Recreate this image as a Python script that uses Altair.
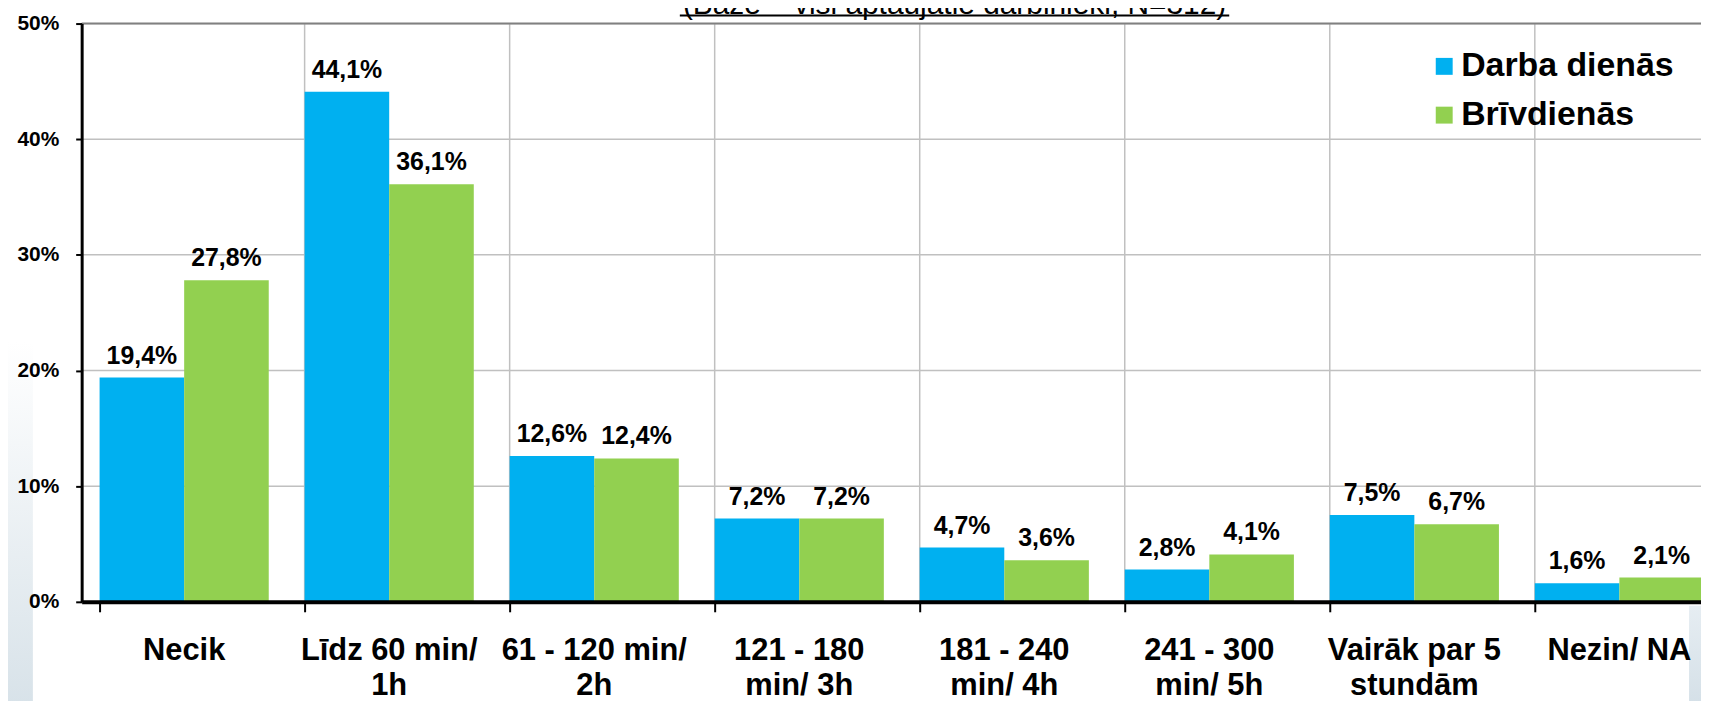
import altair as alt
import pandas as pd

categories = ["Necik", "Līdz 60 min/\n1h", "61 - 120 min/\n2h", "121 - 180\nmin/ 3h",
              "181 - 240\nmin/ 4h", "241 - 300\nmin/ 5h", "Vairāk par 5\nstundām", "Nezin/ NA"]
series = ["Darba dienās", "Brīvdienās"]
darba_dienas = [19.4, 44.1, 12.6, 7.2, 4.7, 2.8, 7.5, 1.6]
brivdienas = [27.8, 36.1, 12.4, 7.2, 3.6, 4.1, 6.7, 2.1]
y_ticks = [0, 10, 20, 30, 40, 50]
colors = ["#00B0F0", "#92D050"]
title_text = "(Bāze – visi aptaujātie darbinieki, N=312)"

FONT = "Liberation Sans"
W, H = 1627, 581

rows = []
for c, a, b in zip(categories, darba_dienas, brivdienas):
    rows.append({"cat": c, "series": series[0], "v": a})
    rows.append({"cat": c, "series": series[1], "v": b})
df = pd.DataFrame(rows)

xscale = alt.Scale(domain=categories, range=[0, 1648], paddingInner=0.175, paddingOuter=0.0875)
yscale = alt.Scale(domain=[0, 50], nice=False)
offscale = alt.Scale(domain=series, paddingInner=0, paddingOuter=0)

x_axis = alt.Axis(
    title=None, domain=True, domainColor="black", domainWidth=4,
    ticks=True, tickColor="black", tickWidth=2, tickSize=10,
    bandPosition=0, grid=False,
    labelFont=FONT, labelFontSize=31, labelFontWeight="bold", labelColor="black",
    labelLineHeight=35, labelPadding=24, labelBaseline="top", labelAngle=0,
    labelLimit=400, labelExpr="split(datum.value, '\\n')", zindex=2,
)
y_axis = alt.Axis(
    title=None, values=y_ticks, domain=True, domainColor="black", domainWidth=3,
    ticks=True, tickColor="black", tickWidth=2, tickSize=6, grid=False,
    labelFont=FONT, labelFontSize=21, labelFontWeight="bold", labelColor="black",
    labelPadding=17, labelExpr="datum.value + '%'", zindex=2,
)

X = lambda **kw: alt.X("cat:N", scale=xscale, axis=x_axis, sort=categories, **kw)
Y = lambda: alt.Y("v:Q", scale=yscale, axis=y_axis)

one = pd.DataFrame({"k": [0]})

bg_left = alt.Chart(one).mark_rect(
    fill=alt.Gradient(gradient="linear",
                      stops=[alt.GradientStop(color="#ffffff", offset=0),
                             alt.GradientStop(color="#d6e1e8", offset=1)],
                      x1=0, x2=0, y1=0, y2=1)
).encode(x=alt.value(-74), x2=alt.value(-49), y=alt.value(320), y2=alt.value(700))

bg_right = alt.Chart(one).mark_rect(
    fill=alt.Gradient(gradient="linear",
                      stops=[alt.GradientStop(color="#e6edf2", offset=0),
                             alt.GradientStop(color="#d2dee6", offset=1)],
                      x1=0, x2=0, y1=0, y2=1)
).encode(x=alt.value(1615), x2=alt.value(1640), y=alt.value(585), y2=alt.value(700))

vgrid = alt.Chart(pd.DataFrame({"cat": categories[1:]})).mark_rule(
    color="#C0C0C0", strokeWidth=1.5
).encode(x=X(bandPosition=0))

hgrid = alt.Chart(pd.DataFrame({"v": y_ticks[1:-1]})).mark_rule(
    color="#C0C0C0", strokeWidth=1.5
).encode(y=Y())

top_line = alt.Chart(pd.DataFrame({"v": [y_ticks[-1]]})).mark_rule(
    color="#808080", strokeWidth=2
).encode(y=Y())

bars = alt.Chart(df).mark_bar().encode(
    x=X(),
    xOffset=alt.XOffset("series:N", scale=offscale),
    y=Y(),
    color=alt.Color("series:N", scale=alt.Scale(domain=series, range=colors),
                    legend=alt.Legend(
                        title=None, orient="none", legendX=1352, legendY=26,
                        symbolType="square", symbolSize=289, symbolStrokeWidth=0,
                        labelFont=FONT, labelFontSize=34, labelFontWeight="bold",
                        labelColor="black", labelOffset=0, rowPadding=15, padding=0,
                        labelLimit=500,
                    )),
)

labels = alt.Chart(df).transform_calculate(
    lab="replace(format(datum.v, '.1f'), '.', ',') + '%'"
).mark_text(
    font=FONT, fontSize=25, fontWeight="bold", color="black", baseline="middle", dy=-22
).encode(
    x=X(),
    xOffset=alt.XOffset("series:N", scale=offscale),
    y=Y(),
    text="lab:N",
)

title = alt.Chart(pd.DataFrame({"t": [title_text]})).mark_text(
    font=FONT, fontSize=30, color="black", align="center", baseline="alphabetic"
).encode(x=alt.value(877), y=alt.value(-10), text="t:N")

underline = alt.Chart(one).mark_rule(color="black", strokeWidth=2).encode(
    x=alt.value(601), x2=alt.value(1153), y=alt.value(-8)
)

chart = alt.layer(bg_left, bg_right, vgrid, hgrid, top_line, bars, labels, title, underline).properties(
    width=W, height=H,
    autosize=alt.AutoSizeParams(type="none"),
    padding={"left": 74, "top": 14, "right": 0, "bottom": 98},
).configure_view(stroke=None).configure(font=FONT)

chart.save("out.html", embed_options={"renderer": "svg", "actions": False})
